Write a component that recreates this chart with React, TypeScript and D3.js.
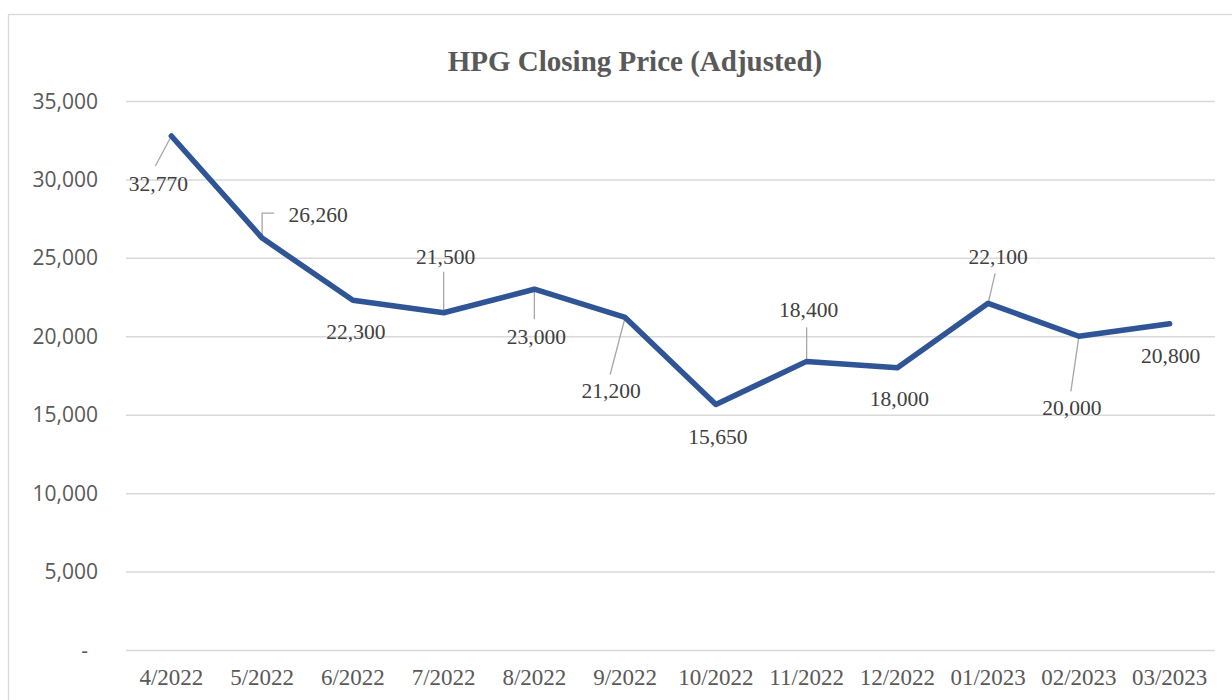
import React, { useEffect, useRef } from 'react';
import * as d3 from 'd3';

// 월별 종가 (조정)
const months = ['4/2022', '5/2022', '6/2022', '7/2022', '8/2022', '9/2022', '10/2022', '11/2022', '12/2022', '01/2023', '02/2023', '03/2023'];
const prices = [32770, 26260, 22300, 21500, 23000, 21200, 15650, 18400, 18000, 22100, 20000, 20800];
const yTicks = [0, 5000, 10000, 15000, 20000, 25000, 30000, 35000];
const title = 'HPG Closing Price (Adjusted)';

// 라벨 위치 (점 기준 px 오프셋) + 지시선
const labelOffsets: [number, number][] = [
    [-13, 55], [56, -16], [3, 39], [2, -49], [2, 55], [-14, 81],
    [2, 39], [2, -44], [2, 38], [10, -39], [-7, 79], [1, 39],
];
const leaders: ([number, number][] | null)[] = [
    [[-16, 30]], [[0, -25], [12, -25]], null, [[0, -41]], [[0, 30]], [[-15, 57]],
    null, [[0, -34]], null, [[7, -30]], [[-8, 55]], null,
];

const App = () => {
    const svgRef = useRef(null);

    useEffect(() => {
        const svg = d3.select(svgRef.current);
        svg.selectAll('*').remove();

        const left = 126, right = 1215, top = 101, bottom = 650;

        const xScale = d3.scaleBand().domain(months).range([left, right]);
        const yScale = d3.scaleLinear().domain([0, 35000]).range([bottom, top]);
        const fmt = d3.format(',');

        // 테두리
        svg.append('rect')
            .attr('x', 8.5).attr('y', 14.5)
            .attr('width', 1253).attr('height', 800)
            .attr('fill', 'white')
            .attr('stroke', '#d9d9d9')
            .attr('stroke-width', 1.3);

        svg.append('text')
            .attr('x', 635).attr('y', 71)
            .attr('text-anchor', 'middle')
            .attr('font-family', '"Liberation Serif", "Times New Roman", serif')
            .attr('font-weight', 'bold')
            .attr('font-size', 29)
            .attr('fill', '#595959')
            .text(title);

        // 그리드 + y축 라벨
        const yAxis = svg.append('g')
            .attr('transform', `translate(${left},0)`)
            .call(d3.axisLeft(yScale).tickValues(yTicks).tickSize(-(right - left)).tickPadding(28)
                .tickFormat(d => (+d === 0 ? '-' : fmt(+d))));
        yAxis.select('.domain').remove();
        yAxis.selectAll('.tick line').attr('stroke', '#d9d9d9').attr('stroke-width', 1.5);
        yAxis.selectAll('.tick text')
            .attr('font-family', '"Open Sans", sans-serif')
            .attr('font-size', 21)
            .attr('fill', '#595959')
            .attr('dy', '0.34em')
            .attr('dx', d => (+d === 0 ? -10 : 0));

        // x축 라벨
        const xAxis = svg.append('g')
            .attr('transform', `translate(0,${bottom})`)
            .call(d3.axisBottom(xScale).tickSize(0).tickPadding(35));
        xAxis.select('.domain').remove();
        xAxis.selectAll('.tick text')
            .attr('font-family', '"Liberation Serif", "Times New Roman", serif')
            .attr('font-size', 23)
            .attr('fill', '#595959')
            .attr('dy', 0);

        const cx = (m: string) => (xScale(m) as number) + xScale.bandwidth() / 2;

        // 지시선
        prices.forEach((v, i) => {
            const ld = leaders[i];
            if (!ld) return;
            const px = cx(months[i]), py = yScale(v);
            const pts: [number, number][] = [[px, py], ...ld.map(([dx, dy]) => [px + dx, py + dy] as [number, number])];
            svg.append('path')
                .attr('d', d3.line()(pts))
                .attr('fill', 'none')
                .attr('stroke', '#a6a6a6')
                .attr('stroke-width', 1.3);
        });

        const line = d3.line<number>()
            .x((_, i) => cx(months[i]))
            .y(d => yScale(d));

        svg.append('path')
            .datum(prices)
            .attr('fill', 'none')
            .attr('stroke', '#2F5597')
            .attr('stroke-width', 5.5)
            .attr('stroke-linejoin', 'round')
            .attr('stroke-linecap', 'round')
            .attr('d', line);

        // 데이터 라벨
        svg.append('g')
            .selectAll('text')
            .data(prices)
            .join('text')
            .attr('x', (d, i) => cx(months[i]) + labelOffsets[i][0])
            .attr('y', (d, i) => yScale(d) + labelOffsets[i][1])
            .attr('text-anchor', 'middle')
            .attr('font-family', '"Liberation Serif", "Times New Roman", serif')
            .attr('font-size', 21.5)
            .attr('fill', '#404040')
            .text(d => fmt(d));
    }, []);

    return (
        <div style={{ position: 'absolute', left: 0, top: 0 }}>
            <svg ref={svgRef} width={1232} height={700} style={{ display: 'block' }} />
        </div>
    );
};

export default App;
